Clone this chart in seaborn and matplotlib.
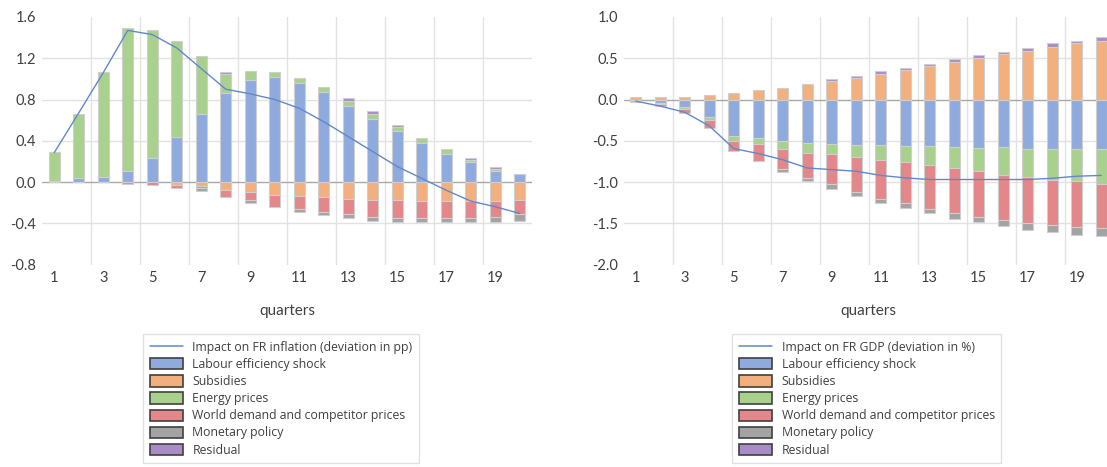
import numpy as np
import pandas as pd
import matplotlib
matplotlib.use("Agg")
import matplotlib.pyplot as plt
from matplotlib.patches import Patch
from matplotlib.lines import Line2D
import seaborn as sns

# ---- data -------------------------------------------------------------
quarters = list(range(1, 21))
tick_quarters = [1, 3, 5, 7, 9, 11, 13, 15, 17, 19]
tick_labels = [str(q) for q in tick_quarters]

series_names = [
    "Labour efficiency shock",
    "Subsidies",
    "Energy prices",
    "World demand and competitor prices",
    "Monetary policy",
    "Residual",
]

# Contributions to French inflation (pp)
infl_labour = [0.01, 0.035, 0.05, 0.11, 0.23, 0.44, 0.66, 0.86, 0.99, 1.02,
               0.96, 0.875, 0.74, 0.61, 0.49, 0.375, 0.27, 0.19, 0.11, 0.075]
infl_subsidies = [0.0, 0.0, 0.0, 0.0, 0.0, -0.03, -0.04, -0.08, -0.10, -0.125,
                  -0.135, -0.15, -0.165, -0.17, -0.175, -0.18, -0.18, -0.18, -0.18, -0.17]
infl_energy = [0.28, 0.625, 1.02, 1.38, 1.24, 0.93, 0.56, 0.19, 0.09, 0.05,
               0.05, 0.05, 0.05, 0.05, 0.04, 0.05, 0.05, 0.02, 0.02, 0.0]
infl_world = [0.0, 0.0, 0.0, -0.02, -0.025, -0.03, -0.02, -0.07, -0.07, -0.115,
              -0.13, -0.14, -0.15, -0.17, -0.17, -0.165, -0.17, -0.17, -0.16, -0.145]
infl_monetary = [0.0, 0.0, 0.0, 0.0, 0.0, 0.0, -0.03, 0.0, -0.03, 0.0,
                 -0.03, -0.03, -0.03, -0.035, -0.04, -0.04, -0.04, -0.04, -0.05, -0.06]
infl_residual = [0.0, 0.0, 0.0, 0.0, 0.0, 0.0, 0.0, 0.02, 0.0, 0.0,
                 0.0, 0.0, 0.025, 0.025, 0.025, 0.0, 0.0, 0.02, 0.02, 0.0]
infl_impact = [0.285, 0.67, 1.06, 1.47, 1.43, 1.30, 1.10, 0.90, 0.855, 0.80,
               0.715, 0.585, 0.44, 0.295, 0.15, 0.035, -0.08, -0.185, -0.24, -0.305]

# Contributions to French GDP (% deviation)
gdp_labour = [-0.01, -0.045, -0.09, -0.21, -0.445, -0.465, -0.50, -0.525, -0.535, -0.55,
              -0.55, -0.565, -0.565, -0.58, -0.585, -0.58, -0.595, -0.60, -0.60, -0.60]
gdp_subsidies = [0.03, 0.03, 0.03, 0.05, 0.08, 0.11, 0.145, 0.19, 0.22, 0.26,
                 0.31, 0.355, 0.405, 0.455, 0.50, 0.555, 0.585, 0.635, 0.685, 0.715]
gdp_energy = [-0.025, -0.01, -0.03, -0.04, -0.06, -0.07, -0.10, -0.12, -0.12, -0.145,
              -0.18, -0.195, -0.23, -0.25, -0.28, -0.33, -0.35, -0.375, -0.39, -0.425]
gdp_world = [0.0, -0.02, -0.04, -0.09, -0.12, -0.205, -0.245, -0.31, -0.375, -0.425,
             -0.475, -0.50, -0.53, -0.545, -0.565, -0.55, -0.55, -0.545, -0.555, -0.535]
gdp_monetary = [0.0, 0.0, 0.0, 0.0, 0.0, 0.0, -0.03, -0.035, -0.05, -0.05,
                -0.045, -0.05, -0.05, -0.07, -0.06, -0.075, -0.085, -0.08, -0.095, -0.095]
gdp_residual = [0.0, 0.0, 0.0, 0.0, 0.0, 0.0, 0.0, 0.0, 0.025, 0.03,
                0.035, 0.03, 0.03, 0.03, 0.035, 0.025, 0.045, 0.05, 0.03, 0.045]
gdp_impact = [-0.02, -0.08, -0.155, -0.32, -0.595, -0.655, -0.73, -0.83, -0.85, -0.87,
              -0.92, -0.95, -0.97, -0.97, -0.97, -0.97, -0.97, -0.955, -0.93, -0.92]

infl_yticks = [-0.8, -0.4, 0.0, 0.4, 0.8, 1.2, 1.6]
gdp_yticks = [-2.0, -1.5, -1.0, -0.5, 0.0, 0.5, 1.0]

# ---- style ------------------------------------------------------------
series_colors = ["#8FAADC", "#F2B07E", "#A9D18E", "#E3878A", "#A3A3A3", "#A98CC6"]
line_color = "#6288CC"
text_color = "#404040"
grid_color = "#E2E2E2"

sns.set_theme(style="white")
plt.rcParams["font.family"] = ["Lato", "DejaVu Sans"]

W, H = 1107, 467
fig = plt.figure(figsize=(W / 100, H / 100), dpi=100)
ax_infl = fig.add_axes([42 / W, (H - 264.5) / H, 490 / W, 247.5 / H])
ax_gdp = fig.add_axes([623.5 / W, (H - 264.5) / H, 490 / W, 247.5 / H])


def draw_panel(ax, components, impact, yticks, line_label):
    x = np.array(quarters, dtype=float)
    pos_base = np.zeros(len(x))
    neg_base = np.zeros(len(x))
    for vals, color in zip(components, series_colors):
        v = np.array(vals, dtype=float)
        bottoms = np.where(v >= 0, pos_base, neg_base)
        keep = v != 0
        ax.bar(x[keep], v[keep], width=0.45, bottom=bottoms[keep], color=color,
               edgecolor="#CFCFCF", linewidth=0.8, zorder=3)
        pos_base += np.where(v > 0, v, 0)
        neg_base += np.where(v < 0, v, 0)

    df = pd.DataFrame({"quarter": quarters, "impact": impact})
    sns.lineplot(data=df, x="quarter", y="impact", ax=ax, color=line_color,
                 linewidth=1.0, zorder=4, legend=False)

    ax.set_xlim(0.5, 20.5)
    ax.set_ylim(yticks[0], yticks[-1])
    ax.set_yticks(yticks)
    ax.set_yticklabels([f"{v:.1f}" for v in yticks])
    ax.set_xticks(tick_quarters)
    ax.set_xticklabels(tick_labels)

    # interior horizontal gridlines, darker line at zero
    for v in yticks[1:-1]:
        if v == 0:
            ax.axhline(0, color="#A8A8A8", linewidth=1.0, zorder=1)
        else:
            ax.axhline(v, color=grid_color, linewidth=1.0, zorder=0)
    # vertical gridlines between pairs of quarters
    ax.set_xticks([q + 1.5 for q in tick_quarters[:-1]], minor=True)
    ax.grid(which="minor", axis="x", color=grid_color, linewidth=1.0, zorder=0)
    ax.grid(which="major", visible=False)

    for s in ax.spines.values():
        s.set_visible(False)
    ax.tick_params(axis="both", which="both", length=0, colors=text_color,
                   labelsize=10.5)
    ax.tick_params(axis="x", pad=5)
    ax.tick_params(axis="y", pad=4)
    ax.set_xlabel("quarters", fontsize=11, color=text_color, labelpad=13)
    ax.set_ylabel("")

    handles = [Line2D([0], [0], color=line_color, linewidth=1.1)]
    handles += [Patch(facecolor=c, edgecolor="#404040", linewidth=1.2)
                for c in series_colors]
    return handles, [line_label] + series_names


h1, l1 = draw_panel(ax_infl,
                    [infl_labour, infl_subsidies, infl_energy, infl_world,
                     infl_monetary, infl_residual],
                    infl_impact, infl_yticks,
                    "Impact on FR inflation (deviation in pp)")
h2, l2 = draw_panel(ax_gdp,
                    [gdp_labour, gdp_subsidies, gdp_energy, gdp_world,
                     gdp_monetary, gdp_residual],
                    gdp_impact, gdp_yticks,
                    "Impact on FR GDP (deviation in %)")

for handles, labels, left in [(h1, l1, 143), (h2, l2, 732)]:
    leg = fig.legend(handles, labels, loc="upper left",
                     bbox_to_anchor=(left / W, 1 - 334 / H),
                     frameon=True, fancybox=False,
                     prop={"family": ["Open Sans", "DejaVu Sans"], "size": 8.8},
                     handlelength=2.75, handleheight=1.05, handletextpad=0.75,
                     labelspacing=0.34, borderpad=0.55, borderaxespad=0.0)
    leg.get_frame().set_edgecolor("#D9D9D9")
    leg.get_frame().set_linewidth(1.0)
    for t in leg.get_texts():
        t.set_color(text_color)

fig.savefig("out.png", dpi=100)
